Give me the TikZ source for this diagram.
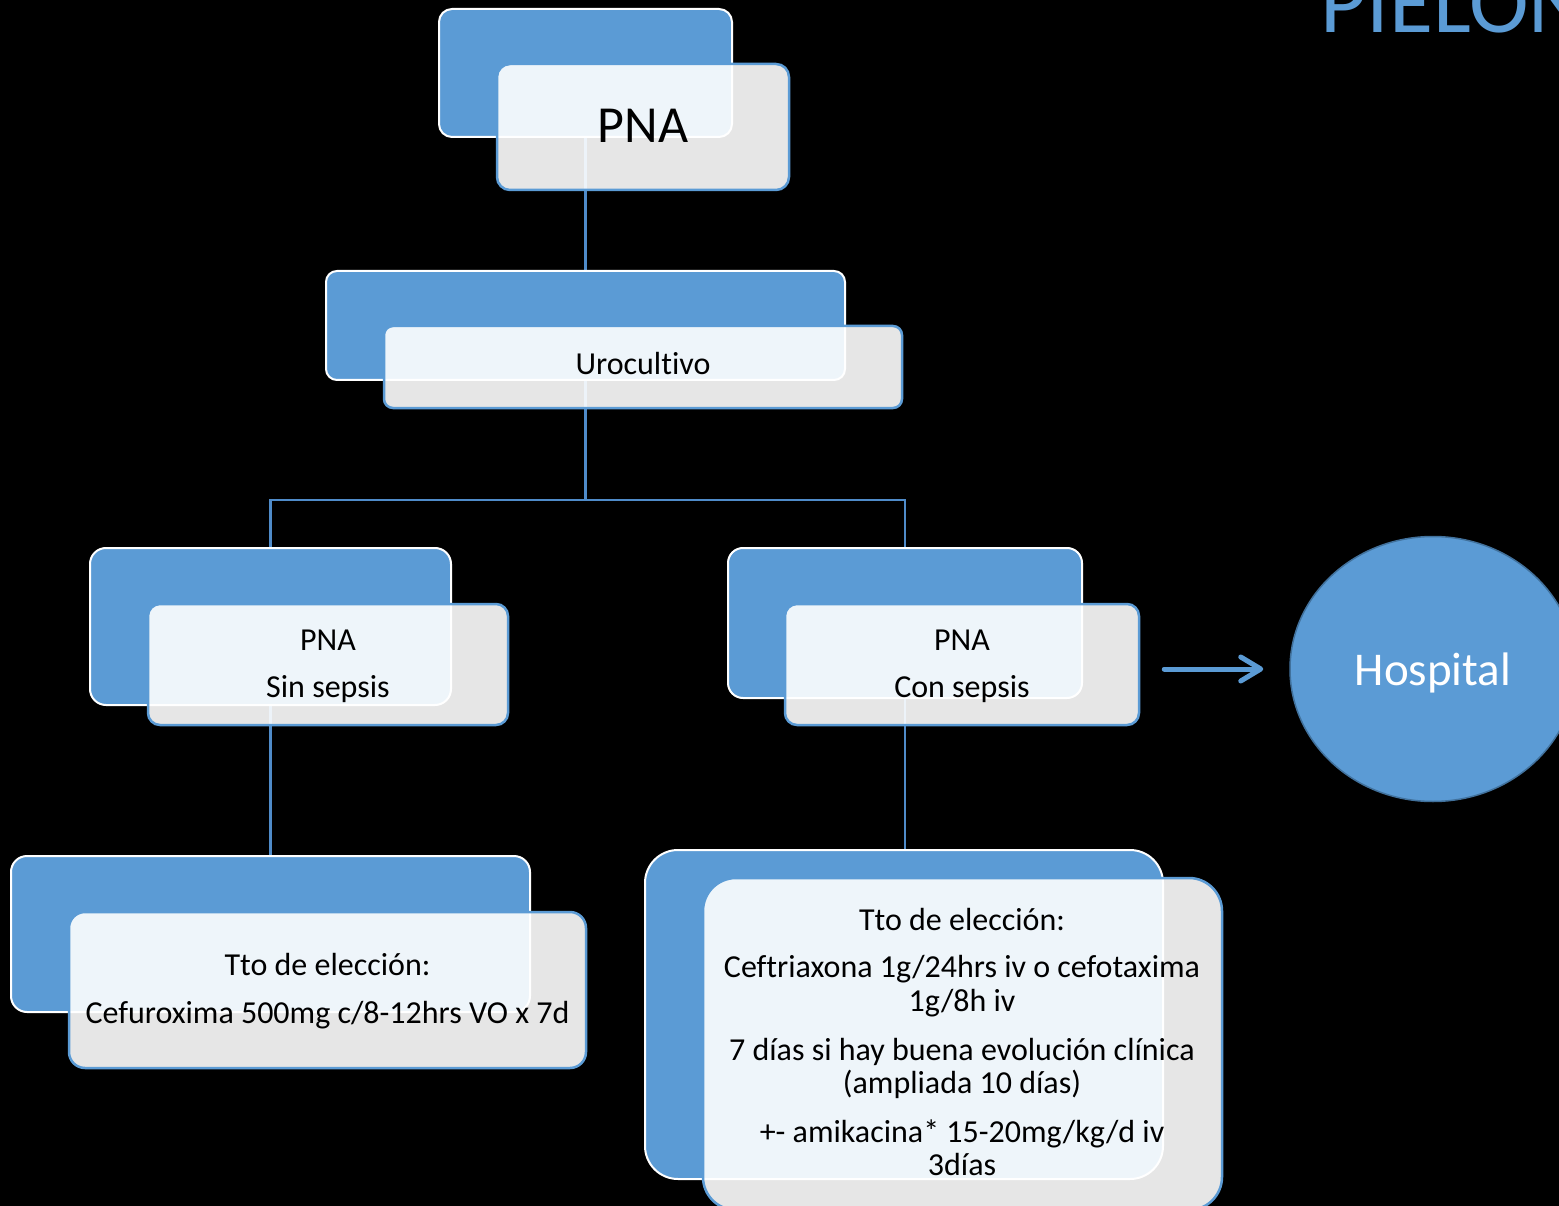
\documentclass[tikz,border=0pt]{standalone}
\usepackage{fontspec}
\setmainfont{Carlito}[Ligatures=NoCommon]
\usetikzlibrary{shapes.geometric,arrows.meta}
\definecolor{boxblue}{HTML}{5B9BD5}
\definecolor{lineblue}{HTML}{4F8BC9}
\definecolor{edgeblue}{HTML}{41719C}
\pgfdeclarelayer{bg}
\pgfdeclarelayer{conn}
\pgfsetlayers{bg,conn,main}
\begin{document}
\begin{tikzpicture}[x=1pt,y=-1pt,
  backbox/.style={draw=white, line width=2pt, fill=boxblue, rectangle, inner sep=0pt},
  frontbox/.style={draw=boxblue, line width=2.5pt, fill=white, fill opacity=0.9, draw opacity=1, rectangle, inner sep=0pt},
  link/.style={draw=lineblue, line width=2.2pt},
  lbl/.style={anchor=base, inner sep=0pt, text=black, font=\fontsize{32}{34}\selectfont},
  arrowline/.style={draw=boxblue, line width=5pt, line cap=round, -{Straight Barb[length=20pt,width=24pt,round]}},
  hospshape/.style={ellipse, draw=edgeblue, line width=1.5pt, fill=boxblue, inner sep=0pt, minimum width=286pt, minimum height=265pt},
]
\useasboundingbox (0,0) rectangle (1559,1206);
\begin{pgfonlayer}{bg}
\fill[black] (0,0) rectangle (1559,1206);
\end{pgfonlayer}

% title
\node[anchor=base west, inner sep=0pt, text=boxblue, font=\fontsize{90}{90}\selectfont] (title) at (1320,33) {PIELON};

% boxes
\node[backbox, minimum width=293pt, minimum height=128pt, rounded corners=13pt] (b1) at (585.5,73) {};
\node[frontbox, minimum width=292pt, minimum height=126pt, rounded corners=13pt] (f1) at (643,127) {};

\node[backbox, minimum width=519pt, minimum height=109pt, rounded corners=11pt] (b2) at (585.5,325.5) {};
\node[frontbox, minimum width=518pt, minimum height=82pt, rounded corners=9pt] (f2) at (643,367) {};

\node[backbox, minimum width=361pt, minimum height=157pt, rounded corners=16pt] (b3) at (270.5,626.5) {};
\node[frontbox, minimum width=360pt, minimum height=121pt, rounded corners=12pt] (f3) at (328,664.5) {};

\node[backbox, minimum width=354pt, minimum height=150pt, rounded corners=15pt] (b4) at (905,623) {};
\node[frontbox, minimum width=354pt, minimum height=121pt, rounded corners=12pt] (f4) at (962,664.5) {};

\node[backbox, minimum width=519pt, minimum height=156pt, rounded corners=16pt] (b5) at (270.5,934) {};
\node[frontbox, minimum width=517pt, minimum height=156pt, rounded corners=16pt] (f5) at (327.5,990) {};

\node[backbox, minimum width=518pt, minimum height=329pt, rounded corners=33pt] (b6) at (904,1014.5) {};
\node[frontbox, minimum width=519pt, minimum height=332pt, rounded corners=33pt] (f6) at (962.5,1044) {};

% hospital
\node[hospshape] (hosp) at (1433,669) {};
\node[anchor=base, inner sep=0pt, text=white, font=\fontsize{47}{50}\selectfont] (hospt) at (1433,685) {Hospital};

% texts
\node[lbl, font=\fontsize{52}{56}\selectfont] (t1) at (643,143) {PNA};
\node[lbl] (t2) at (643,375) {Urocultivo};
\node[lbl] (t3a) at (328,650) {PNA};
\node[lbl] (t3b) at (328,697) {Sin sepsis};
\node[lbl] (t4a) at (962,650) {PNA};
\node[lbl] (t4b) at (962,697) {Con sepsis};
\node[lbl] (t5a) at (327.5,975) {Tto de elección:};
\node[lbl] (t5b) at (327.5,1023) {Cefuroxima 500mg c/8-12hrs VO x 7d};
\node[lbl] (t6a) at (962,930) {Tto de elección:};
\node[lbl] (t6b) at (962,977) {Ceftriaxona 1g/24hrs iv o cefotaxima};
\node[lbl] (t6c) at (962,1011) {1g/8h iv};
\node[lbl] (t6d) at (962,1060) {7 días si hay buena evolución clínica};
\node[lbl] (t6e) at (962,1093) {(ampliada 10 días)};
\node[lbl] (t6f) at (962,1142) {+- amikacina* 15-20mg/kg/d iv};
\node[lbl] (t6g) at (962,1175) {3días};

% connectors
\begin{pgfonlayer}{conn}
\draw[link] (b1.south) -- (b2.north);
\coordinate (j) at (585.5,500);
\draw[link] (b2.south) -- (j);
\draw[link] (b3.north) |- (j) -| (b4.north);
\draw[link] (b3.south) -- (b5.north);
\draw[link] (b4.south) -- (b4.south |- b6.north);
\end{pgfonlayer}

% arrow
\draw[arrowline, shorten <=24pt, shorten >=26pt] (f4.east |- hosp.center) -- (hosp.west);
\end{tikzpicture}
\end{document}
